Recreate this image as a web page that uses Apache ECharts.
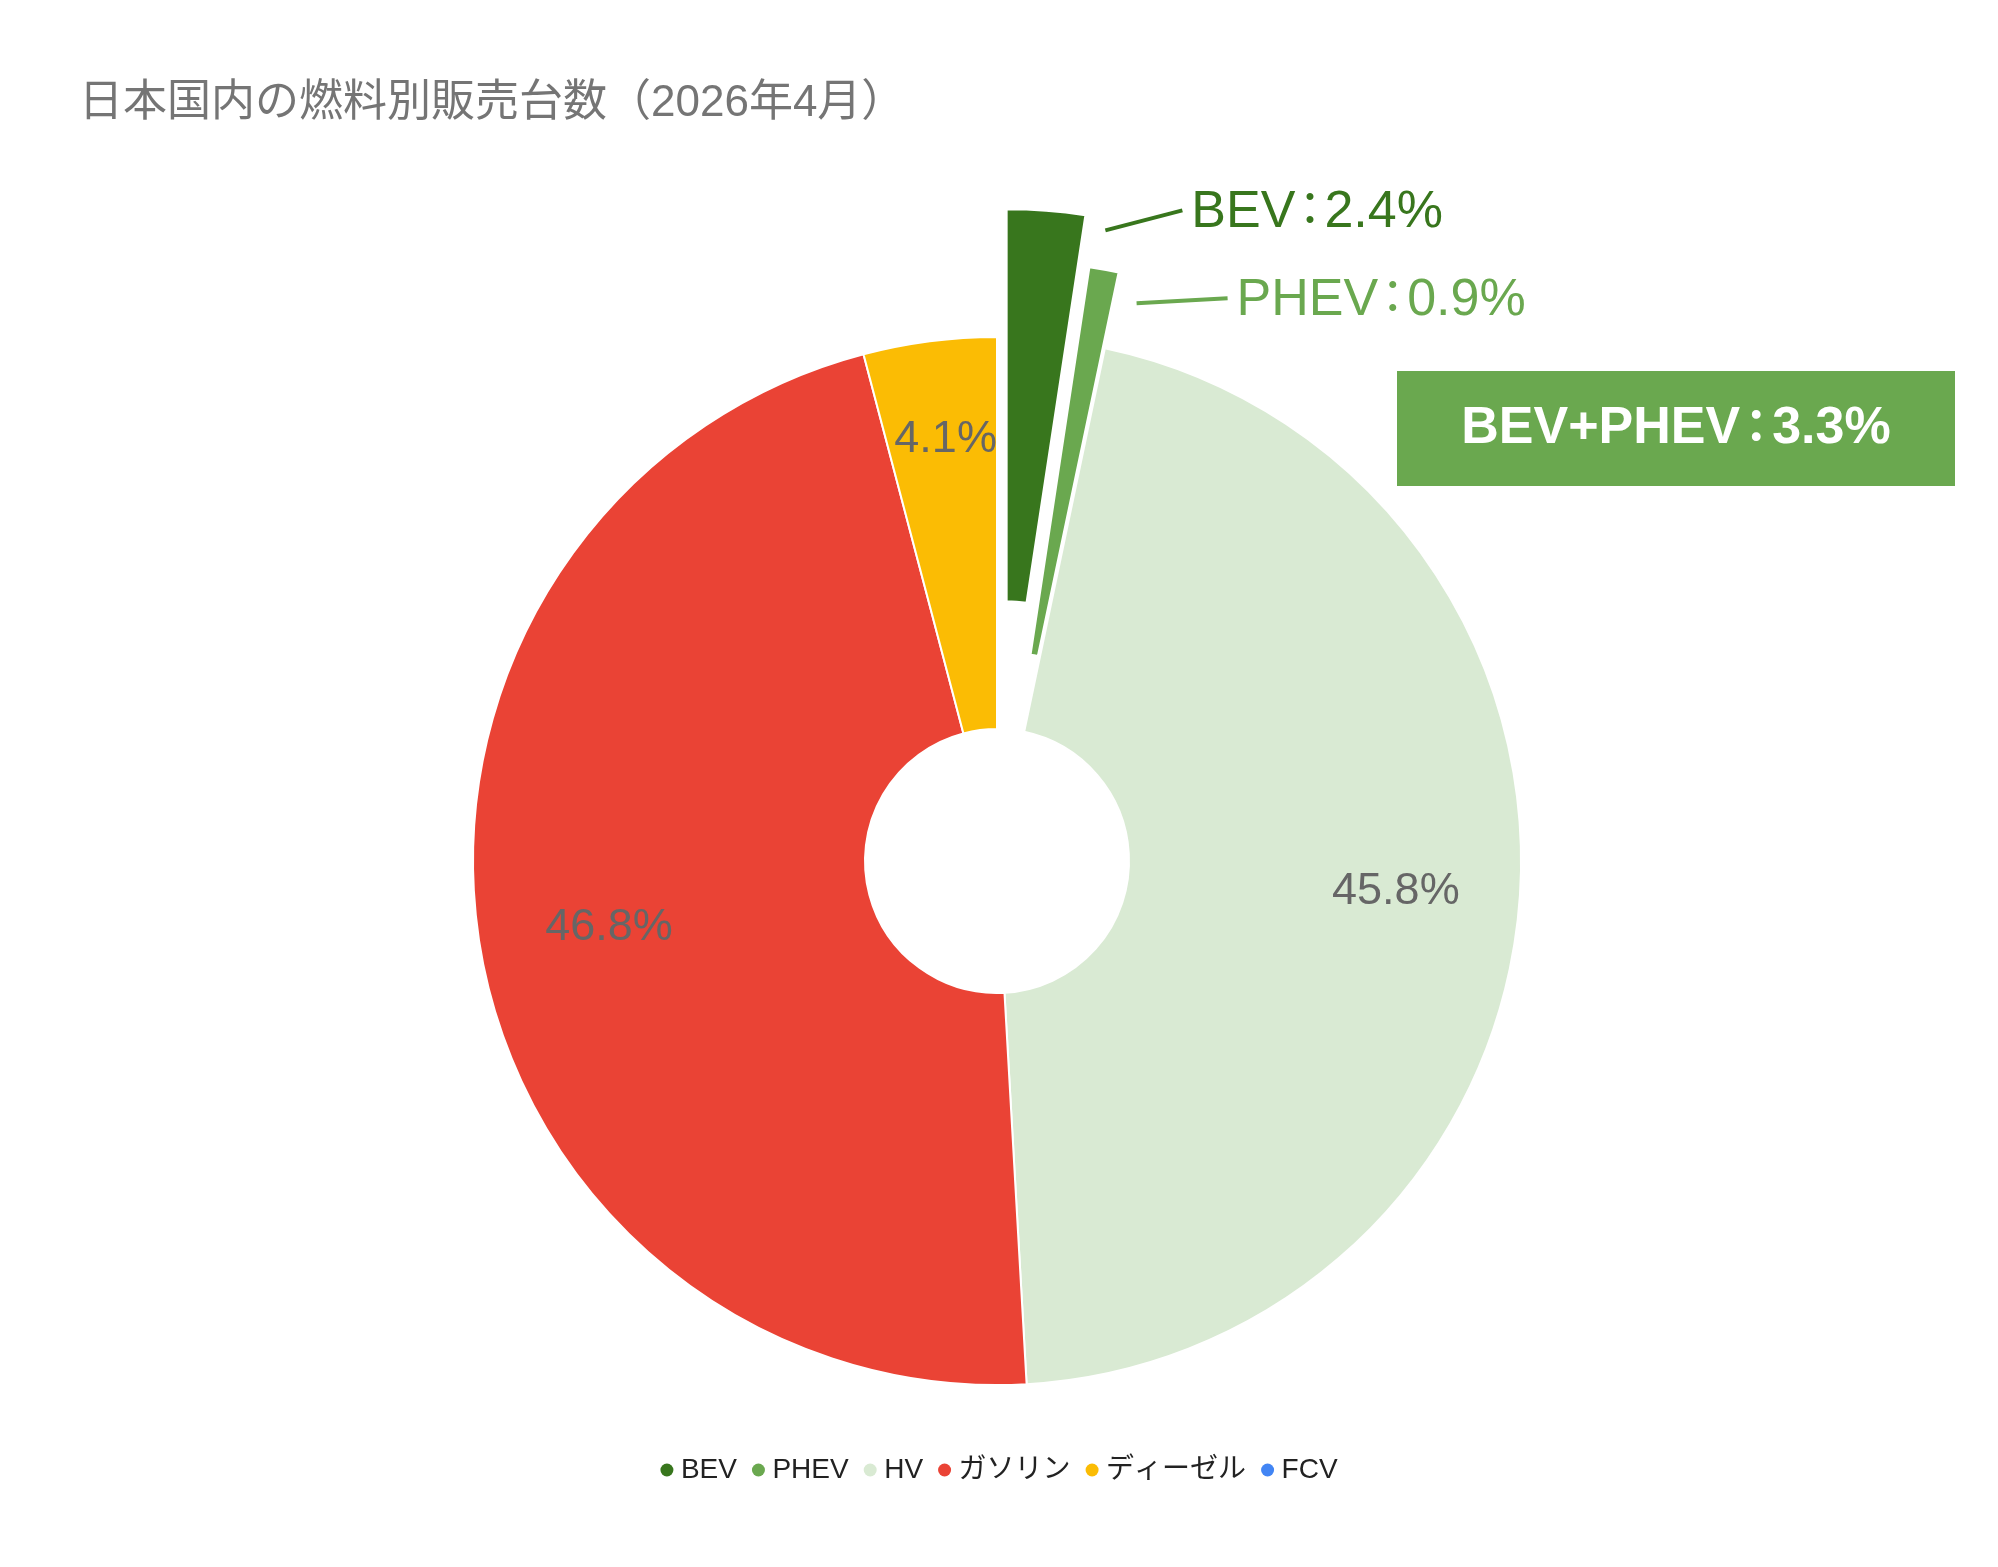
<!DOCTYPE html>
<html>
<head>
	<meta charset="utf-8">
	<title>日本国内の燃料別販売台数</title>
	<script src="https://cdn.jsdelivr.net/npm/echarts@6/dist/echarts.min.js"></script>
	<style>
		html, body { margin: 0; padding: 0; background: #fff; }
		#main { width: 1998px; height: 1567px; }
	</style>
</head>
<body>
	<div id="main"></div>
	<script type="text/javascript">
		// data (shares in %)
		const names = ['BEV', 'PHEV', 'HV', 'ガソリン', 'ディーゼル', 'FCV'];
		const shares = [2.4, 0.9, 45.8, 46.8, 4.1, 0];
		const colors = ['#38761d', '#6aa84f', '#d9ead3', '#ea4335', '#fbbc04', '#4285f4'];
		const titleText = '日本国内の燃料別販売台数（2026年4月）';
		const insideLabelled = ['HV', 'ガソリン', 'ディーゼル'];

		const FONT = "'Liberation Sans', Arial, 'Noto Sans CJK JP', sans-serif";
		const CX = 997, CY = 861, R_IN = 132, R_OUT = 524;
		const HIDDEN = { color: 'rgba(0,0,0,0)', borderWidth: 0 };

		const total = shares.reduce((a, b) => a + b, 0);

		// centre of a slice pulled out of the ring by dist px
		function pulledCenter(name, dist) {
			const i = names.indexOf(name);
			const before = shares.slice(0, i).reduce((a, b) => a + b, 0);
			const mid = (before + shares[i] / 2) / total * 2 * Math.PI;
			return [CX + dist * Math.sin(mid), CY - dist * Math.cos(mid)];
		}

		function ringData(visible) {
			return names.map((name, i) => ({
				name: name,
				value: shares[i],
				itemStyle: visible.includes(name) ? { color: colors[i] } : HIDDEN
			}));
		}

		function pulledData(only) {
			return names.map((name, i) => {
				const on = name === only;
				return {
					name: name,
					value: shares[i],
					itemStyle: on ? { color: colors[i] } : HIDDEN,
					label: { show: on, color: colors[i] },
					labelLine: { show: on, lineStyle: { color: colors[i], width: 4 } }
				};
			});
		}

		// label sits to the right of the pulled slice, joined by a short leader
		function pulledSeries(name, dist, gap, lineStart) {
			return {
				type: 'pie',
				center: pulledCenter(name, dist),
				radius: [R_IN, R_OUT],
				startAngle: 90,
				clockwise: true,
				silent: true,
				avoidLabelOverlap: false,
				itemStyle: { borderColor: '#fff', borderWidth: 2 },
				label: {
					position: 'outside',
					formatter: p => '{t|' + p.name + '}{c|：}{t|' + p.value + '%}',
					fontFamily: FONT,
					rich: {
						t: { fontSize: 52, fontFamily: FONT },
						c: { fontSize: 46, fontFamily: FONT, width: 29, align: 'center' }
					}
				},
				labelLine: { length: 10, length2: 0 },
				labelLayout: p => {
					const right = p.rect.x + p.rect.width;
					const lx = right + gap[0], ly = p.rect.y + gap[1];
					const sx = right + lineStart[0], sy = p.rect.y + lineStart[1];
					return {
						x: lx,
						y: ly,
						align: 'left',
						verticalAlign: 'middle',
						labelLinePoints: [[sx, sy], [sx, sy], [lx - 9, ly - 2]]
					};
				},
				data: pulledData(name)
			};
		}

		const myChart = echarts.init(document.getElementById('main'));
		const options = {
			animation: false,
			backgroundColor: '#fff',
			title: {
				text: titleText,
				left: 74,
				top: 77,
				textStyle: { color: '#757575', fontSize: 44, fontWeight: 'normal', fontFamily: FONT }
			},
			legend: {
				bottom: 78,
				left: 'center',
				icon: 'circle',
				itemWidth: 18,
				itemHeight: 13,
				itemGap: 15,
				selectedMode: false,
				itemStyle: { borderWidth: 0 },
				textStyle: { color: '#222', fontSize: 28, fontFamily: FONT },
				data: names.map((n, i) => ({ name: n, itemStyle: { color: colors[i] } }))
			},
			series: [
				{
					type: 'pie',
					center: [CX, CY],
					radius: [R_IN, R_OUT],
					startAngle: 90,
					clockwise: true,
					silent: true,
					itemStyle: { borderColor: '#fff', borderWidth: 2 },
					label: { show: false },
					labelLine: { show: false },
					data: ringData(['HV', 'ガソリン', 'ディーゼル', 'FCV'])
				},
				pulledSeries('BEV', 128, [105, 4], [19, 22]),
				pulledSeries('PHEV', 77, [117, 34], [17, 37]),
				{
					// label ring for the percentages inside the big slices
					type: 'pie',
					center: [CX, CY],
					radius: [270, R_OUT],
					startAngle: 90,
					clockwise: true,
					silent: true,
					avoidLabelOverlap: false,
					label: {
						position: 'inside',
						formatter: '{c}%',
						color: '#666',
						fontSize: 45,
						fontFamily: FONT
					},
					labelLine: { show: false },
					labelLayout: p => {
						const n = names[p.dataIndex];
						if (n === 'ディーゼル') return { dy: -25 };
						if (n === 'ガソリン') return { dx: 7, dy: 4 };
						return {};
					},
					data: names.map((name, i) => ({
						name: name,
						value: shares[i],
						itemStyle: HIDDEN,
						label: { show: insideLabelled.includes(name) }
					}))
				}
			],
			graphic: [{
				type: 'group',
				left: 1397,
				top: 371,
				children: [{
					type: 'rect',
					shape: { x: 0, y: 0, width: 558, height: 115 },
					style: { fill: '#6aa84f' }
				}, {
					type: 'text',
					x: 279,
					y: 58,
					style: {
						text: '{t|BEV+PHEV}{c|：}{t|' + (shares[0] + shares[1]).toFixed(1) + '%}',
						fill: '#fff',
						align: 'center',
						verticalAlign: 'middle',
						rich: {
							t: { fontSize: 52, fontWeight: 'bold', fontFamily: FONT, fill: '#fff' },
							c: { fontSize: 46, fontWeight: 'bold', fontFamily: FONT, fill: '#fff', width: 32, align: 'center' }
						}
					}
				}]
			}]
		};
		myChart.setOption(options);
	</script>
</body>
</html>
